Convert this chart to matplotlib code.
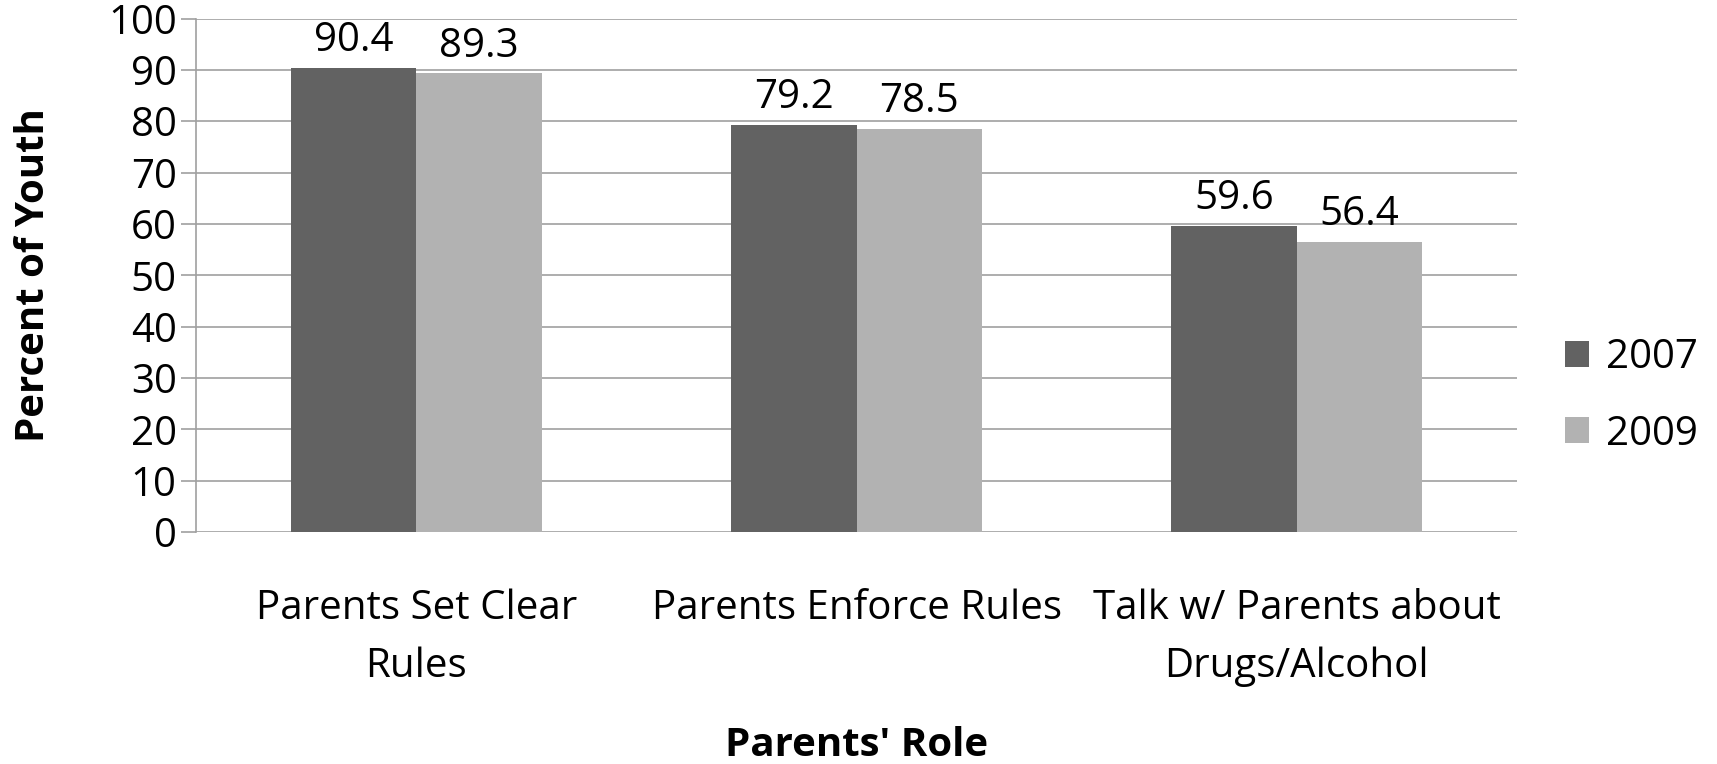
import matplotlib
matplotlib.use("Agg")
import matplotlib.pyplot as plt
import numpy as np

categories = ["Parents Set Clear\nRules", "Parents Enforce Rules", "Talk w/ Parents about\nDrugs/Alcohol"]
series_names = ["2007", "2009"]
values_2007 = [90.4, 79.2, 59.6]
values_2009 = [89.3, 78.5, 56.4]
yticks = [0, 10, 20, 30, 40, 50, 60, 70, 80, 90, 100]

colors = ["#626262", "#b2b2b2"]
FONT = "Open Sans"
plt.rcParams['font.family'] = [FONT, 'DejaVu Sans']
FS = 29

fig = plt.figure(figsize=(17.17, 7.64), dpi=100)
ax = fig.add_axes([0.1142, 0.3037, 0.8835 - 0.1142, 0.9757 - 0.3037])

x = np.arange(len(categories))
w = 0.285
b1 = ax.bar(x - w / 2, values_2007, w, color=colors[0], label=series_names[0], zorder=3)
b2 = ax.bar(x + w / 2, values_2009, w, color=colors[1], label=series_names[1], zorder=3)

for bars, vals in ((b1, values_2007), (b2, values_2009)):
    for r, v in zip(bars, vals):
        ax.annotate(f"{v}", (r.get_x() + r.get_width() / 2, v), xytext=(0, 5),
                    textcoords="offset points", ha="center", va="bottom", fontsize=FS)

ax.set_xlim(-0.5, len(categories) - 0.5)
ax.set_ylim(0, 100)
ax.set_yticks(yticks)
ax.set_yticklabels([str(t) for t in yticks], fontsize=FS)
ax.set_xticks(x)
ax.set_xticklabels(categories, fontsize=FS, linespacing=1.55)
ax.tick_params(axis='x', length=0, pad=41)
ax.tick_params(axis='y', length=11, color="#a0a0a0", width=1.2, pad=3)
ax.yaxis.grid(True, color="#a0a0a0", linewidth=1.2, zorder=0)
ax.set_axisbelow(True)
for s in ("top", "right", "bottom"):
    ax.spines[s].set_visible(False)
ax.spines["left"].set_color("#a0a0a0")
ax.spines["left"].set_linewidth(1.2)

ax.set_ylabel("Percent of Youth", fontsize=FS, fontweight="bold")
ax.yaxis.set_label_coords(-0.123, 0.5)
ax.yaxis.label.set_va("center")
ax.set_xlabel("Parents' Role", fontsize=FS, fontweight="bold")
ax.xaxis.set_label_coords(0.5, -0.415)
ax.xaxis.label.set_va("center")

leg = ax.legend(loc="center left", bbox_to_anchor=(1.036, 0.265), frameon=False, fontsize=FS,
                handlelength=0.62, handleheight=0.62, handletextpad=0.4, labelspacing=0.9,
                borderpad=0, borderaxespad=0)

fig.savefig("out.png", dpi=100)
